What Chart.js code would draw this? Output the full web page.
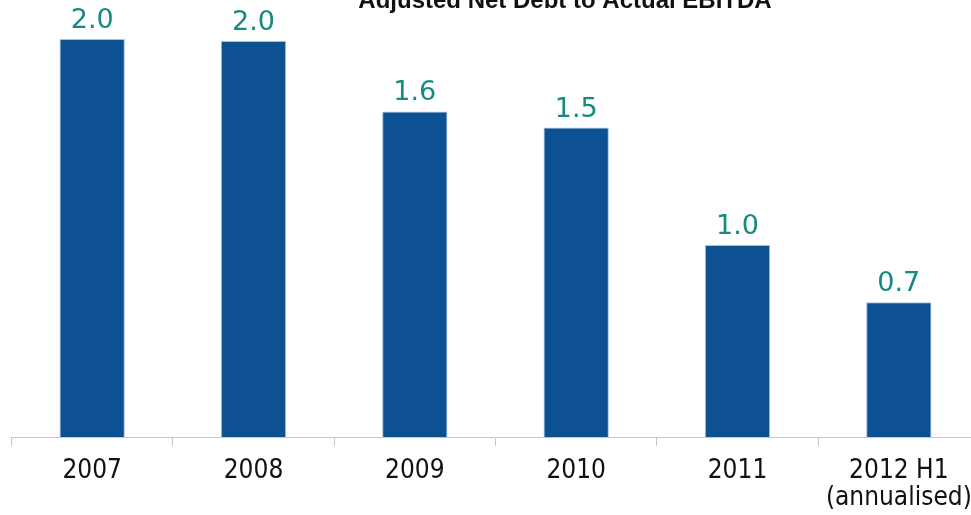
<!DOCTYPE html>
<html>
<head>
<meta charset="utf-8">
<script src="https://cdn.jsdelivr.net/npm/chart.js@4/dist/chart.umd.min.js"></script>
<style>
  html, body { margin: 0; padding: 0; background: #ffffff; overflow: hidden; }
  #wrap { position: absolute; left: 0; top: 0; width: 1000px; height: 515px; }
</style>
</head>
<body>
<div id="wrap"><canvas id="c" width="1000" height="515"></canvas></div>
<script>
// Adjusted net debt divided by actual EBITDA, per period
const chartTitle = 'Adjusted Net Debt to Actual EBITDA';
const periods = ['2007', '2008', '2009', '2010', '2011', ['2012 H1', '(annualised)']];
const ratio = [1.98, 1.97, 1.62, 1.54, 0.955, 0.67];

const BAR_BLUE = '#0d5193';
const LABEL_TEAL = '#178a80';

// Heading, drawn slightly off-centre above the plot
const titlePlugin = {
  id: 'heading',
  afterDraw(chart) {
    const ctx = chart.ctx;
    ctx.save();
    ctx.font = 'bold 24px "Liberation Sans", Arial, sans-serif';
    ctx.fillStyle = '#111111';
    ctx.textAlign = 'center';
    ctx.textBaseline = 'alphabetic';
    ctx.fillText(chartTitle, 565, 8);
    ctx.restore();
  }
};

// Value printed above every bar, one decimal place
const valueLabels = {
  id: 'valueLabels',
  afterDatasetsDraw(chart) {
    const ctx = chart.ctx;
    const meta = chart.getDatasetMeta(0);
    const data = chart.data.datasets[0].data;
    ctx.save();
    ctx.font = '27px "DejaVu Sans", sans-serif';
    ctx.fillStyle = LABEL_TEAL;
    ctx.textAlign = 'center';
    ctx.textBaseline = 'alphabetic';
    meta.data.forEach((bar, i) => {
      ctx.fillText(data[i].toFixed(1), bar.x, bar.y - 11);
    });
    ctx.restore();
  }
};

new Chart(document.getElementById('c'), {
  type: 'bar',
  data: {
    labels: periods,
    datasets: [{
      data: ratio,
      backgroundColor: BAR_BLUE,
      borderColor: '#a3c1e3',
      borderWidth: 1,
      borderSkipped: 'bottom',
      categoryPercentage: 1.0,
      barPercentage: 0.405
    }]
  },
  options: {
    responsive: false,
    animation: false,
    devicePixelRatio: 1,
    layout: { padding: { left: 11.5, right: 20.5, top: 15, bottom: 0 } },
    plugins: {
      legend: { display: false },
      tooltip: { enabled: false },
      title: { display: false }
    },
    scales: {
      x: {
        offset: true,
        grid: {
          offset: true,
          display: true,
          drawOnChartArea: false,
          drawTicks: true,
          tickLength: 9,
          color: '#c6c6c6',
          lineWidth: 1
        },
        border: { display: true, color: '#c6c6c6', width: 1 },
        ticks: {
          autoSkip: false,
          maxRotation: 0,
          minRotation: 0,
          padding: 12,
          color: '#111111',
          font: { family: '"DejaVu Sans Condensed", "DejaVu Sans", sans-serif', size: 26, lineHeight: '27px' }
        },
        afterFit(scale) { scale.height = 78; }
      },
      y: {
        display: false,
        min: 0,
        max: 2.1
      }
    }
  },
  plugins: [valueLabels, titlePlugin]
});
</script>
</body>
</html>
